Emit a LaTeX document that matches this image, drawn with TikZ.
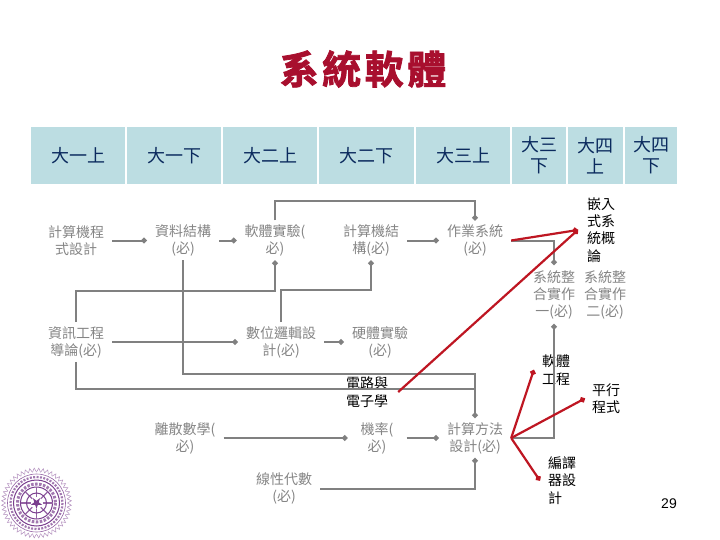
\documentclass[tikz,border=0pt]{standalone}
\usepackage{fontspec}
\setmainfont{Noto Sans CJK TC}
\newfontfamily\titlefont[LetterSpace=9,FakeBold=2]{Noto Sans CJK TC Bold}
\newfontfamily\numfont{Liberation Sans}
\usetikzlibrary{arrows.meta}
\definecolor{hdfill}{HTML}{BCDDE2}
\definecolor{hdtext}{HTML}{0B2A5E}
\definecolor{ttl}{HTML}{A80F2E}
\definecolor{gtext}{HTML}{858585}
\definecolor{gline}{HTML}{808080}
\definecolor{redline}{HTML}{BE1622}
\definecolor{seal}{HTML}{7A3E8E}
\tikzset{
  hd/.style={fill=hdfill,text=hdtext,inner sep=0pt,outer sep=0pt,minimum height=57pt,align=center,font=\fontsize{18}{21}\selectfont},
  gc/.style={text=gtext,align=center,inner xsep=8pt,inner ysep=4pt,font=\fontsize{14}{17}\selectfont},
  bc/.style={text=black,align=left,inner xsep=8pt,inner ysep=4pt,font=\fontsize{14}{17.4}\selectfont},
  gl/.style={draw=gline,line width=2pt,line join=miter,-{Circle[length=5.5pt,width=5.5pt]}},
  glp/.style={draw=gline,line width=2pt,line join=miter},
  rl/.style={draw=redline,line width=2.2pt,-{Circle[length=5.5pt,width=5.5pt]}}
}
\begin{document}
\begin{tikzpicture}[x=1pt,y=-1pt]
\useasboundingbox (0,0) rectangle (720,540);
% title
\node (title) at (363,69) {\titlefont\fontsize{39}{41}\selectfont\textcolor{ttl}{系統軟體}};
% header
\node[hd,minimum width=94pt] (h1) at (78,155.5) {大一上};
\node[hd,minimum width=94pt] (h2) at (174,155.5) {大一下};
\node[hd,minimum width=94pt] (h3) at (270,155.5) {大二上};
\node[hd,minimum width=95pt] (h4) at (366.5,155.5) {大二下};
\node[hd,minimum width=94pt] (h5) at (463,155.5) {大三上};
\node[hd,minimum width=54pt] (h6) at (539,155.5) {大三\\下};
\node[hd,minimum width=55pt] (h7) at (595.5,155.5) {大四\\上};
\node[hd,minimum width=52pt] (h8) at (651,155.5) {大四\\下};
% courses
\node[gc] (prog) at (76,240.5) {計算機程\\式設計};
\node[gc] (ds) at (183,240.5) {資料結構\\(必)};
\node[gc] (swlab) at (275,240.5) {軟體實驗(\\必)};
\node[gc] (arch) at (371,240.5) {計算機結\\構(必)};
\node[gc] (os) at (475,240.5) {作業系統\\(必)};
\node[gc] (intro) at (76,342) {資訊工程\\導論(必)};
\node[gc] (logic) at (281,342) {數位邏輯設\\計(必)};
\node[gc] (hwlab) at (380,342) {硬體實驗\\(必)};
\node[gc] (disc) at (185,438) {離散數學(\\必)};
\node[gc,inner xsep=13pt] (prob) at (377,438) {機率(\\必)};
\node[gc] (algo) at (475,438) {計算方法\\設計(必)};
\node[gc] (lin) at (284,488.5) {線性代數\\(必)};
\node[gc,inner ysep=5pt] (sys1) at (554,294.5) {系統整\\合實作\\一(必)};
\node[gc,inner ysep=5pt] (sys2) at (605,294.5) {系統整\\合實作\\二(必)};
\node[bc,inner xsep=9pt] (emb) at (601,230) {嵌入\\式系\\統概\\論};
\node[bc,inner xsep=10pt] (circ) at (367,392) {電路與\\電子學};
\node[bc] (swe) at (556,370) {軟體\\工程};
\node[bc,inner xsep=7pt] (para) at (606,398.5) {平行\\程式};
\node[bc] (comp) at (562,480.5) {編譯\\器設\\計};
\node[text=black,font=\numfont\fontsize{14}{16}\selectfont] (pg) at (669,504) {29};
% junction coordinates
\coordinate (j1) at (475,201);
\coordinate (j2) at (475,374);
\coordinate (j3) at (475,389);
\coordinate (j4) at (275,291);
\coordinate (j5) at (371,290);
% gray connectors
\draw[gl] (prog.east) -- (ds.west);
\draw[gl] (ds.east) -- (swlab.west);
\draw[gl] (arch.east) -- (os.west);
\draw[gl] (intro.east) -- (logic.west);
\draw[gl] (logic.east) -- (hwlab.west);
\draw[gl] (disc.east) -- (prob.west);
\draw[gl] (prob.east) -- (algo.west);
\draw[gl] (swlab.north) |- (j1) -- (os.north);
\draw[gl] (os.east) -| (sys1.north);
\draw[gl] (algo.east) -| (sys1.south);
\draw[gl] (intro.north) |- (j4) -- (swlab.south);
\draw[gl] (logic.north) |- (j5) -- (arch.south);
\draw[glp] (ds.south) |- (j2) -- (j3);
\draw[glp] (intro.south) |- (j3);
\draw[gl] (j3) -- (algo.north);
\draw[gl] (lin.east) -| (algo.south);
% red connectors
\draw[rl] (os.east) -- (emb.west);
\draw[rl] (circ.east) -- (emb.west);
\draw[rl] (algo.east) -- (swe.west);
\draw[rl] (algo.east) -- (para.west);
\draw[rl] (algo.east) -- (comp.west);
% seal
\begin{scope}[shift={(36.5,503)}]
  \foreach \a in {0,7.5,...,352.5} {
    \draw[seal!60,line width=0.5pt] (\a:31) -- (\a+3.75:35) -- (\a+7.5:31);
  }
  \draw[seal!80,line width=0.6pt] (0,0) circle (29);
  \draw[seal!70,line width=2.2pt,dash pattern=on 2pt off 1.4pt] (0,0) circle (26);
  \draw[seal,line width=1pt] (0,0) circle (23);
  \draw[seal!70,line width=3pt,dash pattern=on 2.5pt off 1.5pt] (0,0) circle (19);
  \draw[seal,line width=1pt] (0,0) circle (16);
  \foreach \a in {0,45,...,315} { \draw[seal!80,line width=1.2pt] (\a:6) -- (\a:16); }
  \draw[seal,line width=1pt] (0,0) circle (10);
  \fill[seal] (90:6) -- (126:2.3) -- (162:6) -- (198:2.3) -- (234:6) -- (270:2.3) -- (306:6) -- (342:2.3) -- (18:6) -- (54:2.3) -- cycle;
\end{scope}
\end{tikzpicture}
\end{document}
